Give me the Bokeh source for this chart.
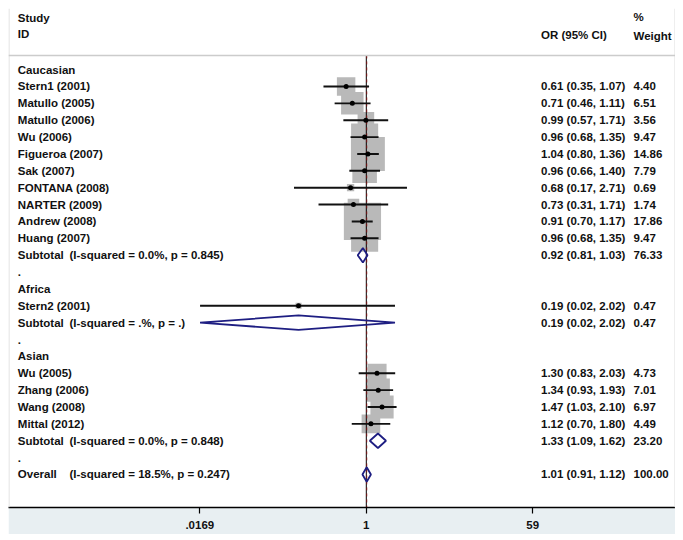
import math
from bokeh.plotting import figure
from bokeh.models import Range1d, FixedTicker, Span, ColumnDataSource, LinearScale
from bokeh.core.properties import value
from bokeh.embed import file_html
from bokeh.resources import INLINE

# ---------------- data ----------------
cau_study = ["Stern1 (2001)", "Matullo (2005)", "Matullo (2006)", "Wu (2006)",
             "Figueroa (2007)", "Sak (2007)", "FONTANA (2008)", "NARTER (2009)",
             "Andrew (2008)", "Huang (2007)"]
cau_or = [0.61, 0.71, 0.99, 0.96, 1.04, 0.96, 0.68, 0.73, 0.91, 0.96]
cau_lo = [0.35, 0.46, 0.57, 0.68, 0.80, 0.66, 0.17, 0.31, 0.70, 0.68]
cau_hi = [1.07, 1.11, 1.71, 1.35, 1.36, 1.40, 2.71, 1.71, 1.17, 1.35]
cau_w = [4.40, 6.51, 3.56, 9.47, 14.86, 7.79, 0.69, 1.74, 17.86, 9.47]

afr_study = ["Stern2 (2001)"]
afr_or = [0.19]
afr_lo = [0.017]
afr_hi = [2.02]
afr_w = [0.47]

asi_study = ["Wu (2005)", "Zhang (2006)", "Wang (2008)", "Mittal (2012)"]
asi_or = [1.30, 1.34, 1.47, 1.12]
asi_lo = [0.83, 0.93, 1.03, 0.70]
asi_hi = [2.03, 1.93, 2.10, 1.80]
asi_w = [4.73, 7.01, 6.97, 4.49]

group_names = ["Caucasian", "Africa", "Asian"]
sub_or = [0.92, 0.19, 1.33]
sub_lo = [0.81, 0.017, 1.09]
sub_hi = [1.03, 2.02, 1.62]
sub_w = [76.33, 0.47, 23.20]
sub_het = ["(I-squared = 0.0%, p = 0.845)", "(I-squared = .%, p = .)",
           "(I-squared = 0.0%, p = 0.848)"]

overall_or = 1.01
overall_lo = 0.91
overall_hi = 1.12
overall_w = 100.00
overall_het = "(I-squared = 18.5%, p = 0.247)"

tick_vals = [0.0169, 1, 59]
tick_labels = [".0169", "1", "59"]
null_value = 1

# ---------------- layout constants ----------------
W, H = 667, 526
AXIS_H = 27
PX_1 = 357.8          # figure px of OR = 1
PX_PER_LN = 40.8
x_start = math.exp((0 - PX_1) / PX_PER_LN)
x_end = math.exp((W - PX_1) / PX_PER_LN)
ROW0, ROWH = 61.1, 16.87   # figure px of first row, row pitch
Y_TOP = -ROW0 / ROWH
Y_BOT = (H - AXIS_H - ROW0) / ROWH
FONT = value("Liberation Sans")
FS = "11.5px"
COL_STUDY, COL_HET, COL_OR, COL_W = 9.3, 61.0, 532.5, 625.0
BOX_K = 8.8
DIA_H = 0.43

groups = [
    (cau_study, cau_or, cau_lo, cau_hi, cau_w),
    (afr_study, afr_or, afr_lo, afr_hi, afr_w),
    (asi_study, asi_or, asi_lo, asi_hi, asi_w),
]

lab = dict(x=[], y=[], t=[])
est = dict(x=[], y=[], lo=[], hi=[], s=[])
dia_xs, dia_ys = [], []
row = 0


def add_label(x, y, t):
    lab["x"].append(x)
    lab["y"].append(y)
    lab["t"].append(t)


def add_diamond(o, l, h, y):
    dia_xs.append([l, o, h, o, l])
    dia_ys.append([y, y - DIA_H, y, y + DIA_H, y])


for gi, (st, o_, l_, h_, w_) in enumerate(groups):
    add_label(COL_STUDY, row, group_names[gi])
    row += 1
    for s, o, l, h, w in zip(st, o_, l_, h_, w_):
        add_label(COL_STUDY, row, s)
        add_label(COL_OR, row, f"{o:.2f} ({l:.2f}, {h:.2f})")
        add_label(COL_W, row, f"{w:.2f}")
        est["x"].append(o); est["y"].append(row)
        est["lo"].append(l); est["hi"].append(h)
        est["s"].append(BOX_K * math.sqrt(w))
        row += 1
    add_label(COL_STUDY, row, "Subtotal")
    add_label(COL_HET, row, sub_het[gi])
    add_label(COL_OR, row, f"{sub_or[gi]:.2f} ({sub_lo[gi]:.2f}, {sub_hi[gi]:.2f})")
    add_label(COL_W, row, f"{sub_w[gi]:.2f}")
    add_diamond(sub_or[gi], sub_lo[gi], sub_hi[gi], row)
    row += 1
    add_label(COL_STUDY, row, ".")
    row += 1

add_label(COL_STUDY, row, "Overall")
add_label(COL_HET, row, overall_het)
add_label(COL_OR, row, f"{overall_or:.2f} ({overall_lo:.2f}, {overall_hi:.2f})")
add_label(COL_W, row, f"{overall_w:.2f}")
add_diamond(overall_or, overall_lo, overall_hi, row)

hdr = dict(x=[COL_STUDY, COL_STUDY, COL_OR, COL_W, COL_W],
           y=[-3.07, -2.1, -2.08, -3.1, -2.02],
           t=["Study", "ID", "OR (95% CI)", "%", "Weight"])
SEP_Y = -0.84

# ---------------- figure ----------------
p = figure(width=W, height=H, x_axis_type="log",
           x_range=Range1d(x_start, x_end), y_range=Range1d(Y_BOT, Y_TOP),
           output_backend="svg", toolbar_location=None,
           y_axis_location=None, min_border=0, min_border_bottom=AXIS_H)
p.margin = (8, 8, 6, 8)
p.extra_x_ranges = {"px": Range1d(0, W)}
p.extra_x_scales = {"px": LinearScale()}
p.grid.visible = False
p.background_fill_color = "white"
p.border_fill_color = "#e8eff2"
p.outline_line_color = None

# faint frame edges left/right
for xe in (0.5, W - 0.5):
    p.add_layout(Span(location=xe, dimension="height", x_range_name="px",
                      line_color="#dcdcdc", line_width=1))

p.add_layout(Span(location=SEP_Y, dimension="width", line_color="#cccccc", line_width=1.5))

src = ColumnDataSource(est)
p.scatter(x="x", y="y", size="s", marker="square", source=src,
          fill_color="#b9b9b9", line_color=None)

p.segment(x0=[null_value], x1=[null_value], y0=[SEP_Y], y1=[Y_BOT],
          line_color="black", line_width=1)
p.segment(x0=[overall_or], x1=[overall_or], y0=[SEP_Y], y1=[Y_BOT],
          line_color="#7a1414", line_width=1, line_dash="3 3")

p.segment(x0="lo", x1="hi", y0="y", y1="y", source=src,
          line_color="#111111", line_width=1.9)
p.scatter(x="x", y="y", size=5, source=src, fill_color="black", line_color=None)

p.patches(xs=dia_xs, ys=dia_ys, fill_color=None, line_color="#1e1e82", line_width=1.8)

for d in (lab, hdr):
    p.text(x="x", y="y", text="t", source=ColumnDataSource(d), x_range_name="px",
           text_font=FONT, text_font_style="bold", text_font_size=FS,
           text_baseline="middle", text_align="left", text_color="#111111")

ax = p.xaxis[0]
ax.ticker = FixedTicker(ticks=tick_vals, minor_ticks=[])
ax.major_label_overrides = {v: l for v, l in zip(tick_vals, tick_labels)}
ax.axis_label = None
ax.axis_line_color = "black"
ax.axis_line_width = 1.5
ax.major_tick_line_color = "black"
ax.major_tick_line_width = 1.2
ax.major_tick_out = 6
ax.major_tick_in = 0
ax.minor_tick_out = 0
ax.minor_tick_line_color = None
ax.major_label_standoff = 7
ax.major_label_text_font = "Liberation Sans"
ax.major_label_text_font_style = "bold"
ax.major_label_text_font_size = FS
ax.major_label_text_color = "#111111"

open("out.html", "w").write(file_html(p, INLINE))
